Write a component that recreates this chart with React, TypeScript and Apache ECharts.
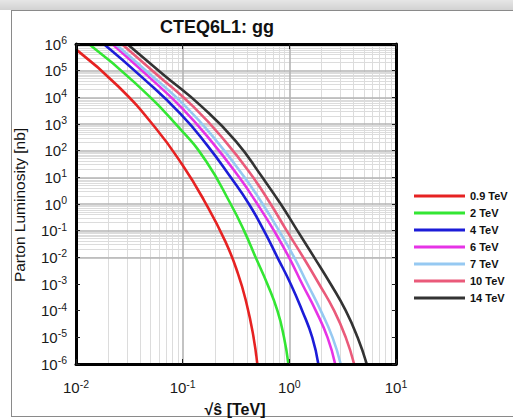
import React, { useEffect, useRef } from "react";
import * as echarts from "echarts";

// ---- Data ----
const seriesNames = ["0.9 TeV", "2 TeV", "4 TeV", "6 TeV", "7 TeV", "10 TeV", "14 TeV"];
const seriesColors = ["#e62222", "#33e633", "#1c1cd8", "#e633e6", "#96c9f2", "#ea5a7a", "#333333"];

// sqrt(s-hat) [TeV] and parton luminosity [nb]
const lumi09X = [0.01, 0.0251, 0.0562, 0.1, 0.158, 0.251, 0.331, 0.398, 0.457, 0.501];
const lumi09Y = [6.3e5, 2.5e4, 676, 28.2, 1.41, 0.0398, 2.34e-3, 1.78e-4, 1.29e-5, 1e-6];

const lumi2X = [0.0132, 0.0355, 0.0955, 0.166, 0.282, 0.376, 0.483, 0.622, 0.773, 0.891, 0.98];
const lumi2Y = [1e6, 3.55e4, 631, 39.8, 1, 0.1, 1e-2, 1e-3, 1e-4, 1e-5, 1e-6];

const lumi4X = [0.0182, 0.0417, 0.0955, 0.17, 0.282, 0.418, 0.578, 0.773, 1.03, 1.32, 1.64, 1.87];
const lumi4Y = [1e6, 5.62e4, 2.4e3, 158, 10, 1, 0.1, 1e-2, 1e-3, 1e-4, 1e-5, 1e-6];

const lumi6X = [0.0219, 0.0457, 0.0955, 0.186, 0.339, 0.501, 0.718, 0.993, 1.32, 1.77, 2.28, 2.69];
const lumi6Y = [1e6, 7.08e4, 4.47e3, 224, 10, 1, 0.1, 1e-2, 1e-3, 1e-4, 1e-5, 1e-6];

const lumi7X = [0.0234, 0.0501, 0.107, 0.209, 0.38, 0.562, 0.8, 1.11, 1.48, 1.97, 2.54, 3.03];
const lumi7Y = [1e6, 7.08e4, 4.47e3, 224, 10, 1, 0.1, 1e-2, 1e-3, 1e-4, 1e-5, 1e-6];

const lumi10X = [0.0269, 0.0575, 0.126, 0.251, 0.457, 0.668, 0.944, 1.35, 1.9, 2.63, 3.38, 4.05];
const lumi10Y = [1e6, 7.08e4, 4.47e3, 224, 10, 1, 0.1, 1e-2, 1e-3, 1e-4, 1e-5, 1e-6];

const lumi14X = [0.0302, 0.0661, 0.151, 0.316, 0.558, 0.83, 1.19, 1.71, 2.44, 3.38, 4.36, 5.32];
const lumi14Y = [1e6, 7.08e4, 4.47e3, 224, 10, 1, 0.1, 1e-2, 1e-3, 1e-4, 1e-5, 1e-6];

const curvesX = [lumi09X, lumi2X, lumi4X, lumi6X, lumi7X, lumi10X, lumi14X];
const curvesY = [lumi09Y, lumi2Y, lumi4Y, lumi6Y, lumi7Y, lumi10Y, lumi14Y];

// Axis ranges / tick values
const xMin = 0.01;
const xMax = 10;
const yMin = 1e-6;
const yMax = 1e6;
const xTicks = [0.01, 0.1, 1, 10];
const yTicks = [1e-6, 1e-5, 1e-4, 1e-3, 1e-2, 1e-1, 1, 10, 100, 1e3, 1e4, 1e5, 1e6];
const xMajorInner = [0.1, 1];
const yMajorInner = [1e-5, 1e-4, 1e-3, 1e-2, 1e-1, 1, 10, 100, 1e3, 1e4, 1e5];
const minorMultipliers = [2, 3, 4, 5, 6, 7, 8, 9];
const xDecades = [0.01, 0.1, 1];
const yDecades = [1e-6, 1e-5, 1e-4, 1e-3, 1e-2, 1e-1, 1, 10, 100, 1e3, 1e4, 1e5];

const FONT = "'Liberation Sans', Arial, Helvetica, sans-serif";

const expLabel = (v: number) => {
  const e = Math.round(Math.log10(v));
  return `{b|10}{s|${e}}`;
};

const labelRich = {
  b: { fontSize: 15, lineHeight: 19, color: "#1a1a1a", fontFamily: FONT },
  s: { fontSize: 10.5, lineHeight: 11, verticalAlign: "top", color: "#1a1a1a", fontFamily: FONT },
};

function buildOption() {
  const minorLines: any[] = [];
  xDecades.forEach((d) =>
    minorMultipliers.forEach((m) => minorLines.push({ xAxis: m * d }))
  );
  yDecades.forEach((d) =>
    minorMultipliers.forEach((m) => minorLines.push({ yAxis: m * d }))
  );
  const majorLines: any[] = [
    ...xMajorInner.map((v) => ({ xAxis: v })),
    ...yMajorInner.map((v) => ({ yAxis: v })),
  ];

  const curveSeries = seriesNames.map((name, i) => ({
    name,
    type: "line",
    xAxisIndex: 0,
    yAxisIndex: 0,
    data: curvesX[i].map((x, j) => [x, curvesY[i][j]]),
    showSymbol: false,
    symbol: "none",
    smooth: 0.5,
    color: seriesColors[i],
    lineStyle: { color: seriesColors[i], width: 2.6 },
    itemStyle: { color: seriesColors[i] },
    z: 5,
    silent: true,
  }));

  const gridSeries = [
    {
      name: "minor-grid",
      type: "line",
      data: [[xMin, yMin]],
      symbol: "none",
      lineStyle: { opacity: 0 },
      silent: true,
      z: 1,
      markLine: {
        z: 1,
        silent: true,
        symbol: ["none", "none"],
        label: { show: false },
        lineStyle: { color: "#dcdcdc", width: 1, type: "solid" },
        emphasis: { disabled: true },
        data: minorLines,
      },
    },
    {
      name: "major-grid",
      type: "line",
      data: [[xMin, yMin]],
      symbol: "none",
      lineStyle: { opacity: 0 },
      silent: true,
      z: 2,
      markLine: {
        z: 2,
        silent: true,
        symbol: ["none", "none"],
        label: { show: false },
        lineStyle: { color: "#b4b4b4", width: 1.6, type: "solid" },
        emphasis: { disabled: true },
        data: majorLines,
      },
    },
  ];

  const axisCommonX = {
    type: "log",
    logBase: 10,
    min: xMin,
    max: xMax,
    z: 10,
    axisLine: { show: true, onZero: false, lineStyle: { color: "#000", width: 3 } },
    axisTick: {
      show: true,
      inside: true,
      length: 5,
      customValues: xTicks,
      lineStyle: { color: "#222", width: 1 },
    },
    splitLine: { show: false },
    minorTick: { show: false },
  };
  const axisCommonY = {
    type: "log",
    logBase: 10,
    min: yMin,
    max: yMax,
    z: 10,
    axisLine: { show: true, onZero: false, lineStyle: { color: "#000", width: 3 } },
    axisTick: {
      show: true,
      inside: true,
      length: 4,
      customValues: yTicks,
      lineStyle: { color: "#222", width: 1 },
    },
    splitLine: { show: false },
    minorTick: { show: false },
  };

  return {
    animation: false,
    backgroundColor: "#ffffff",
    grid: { left: 76, top: 44, width: 320, height: 320, containLabel: false },
    xAxis: [
      {
        ...axisCommonX,
        position: "bottom",
        axisLabel: {
          show: true,
          margin: 14,
          customValues: xTicks,
          formatter: expLabel,
          rich: labelRich,
        },
      },
      {
        ...axisCommonX,
        position: "top",
        axisLabel: { show: false },
      },
    ],
    yAxis: [
      {
        ...axisCommonY,
        position: "left",
        axisLabel: {
          show: true,
          margin: 9,
          customValues: yTicks,
          formatter: expLabel,
          rich: labelRich,
        },
      },
      {
        ...axisCommonY,
        position: "right",
        axisLabel: { show: false },
      },
    ],
    legend: {
      show: true,
      orient: "vertical",
      left: 409,
      top: 184,
      icon: "rect",
      itemWidth: 51,
      itemHeight: 3,
      itemGap: 3,
      data: seriesNames,
      textStyle: {
        fontSize: 11,
        lineHeight: 14,
        fontWeight: "bold",
        color: "#111",
        fontFamily: FONT,
      },
    },
    graphic: [
      {
        type: "rect",
        z: 0,
        silent: true,
        shape: { x: 0, y: 0, width: 513, height: 10 },
        style: {
          fill: new echarts.graphic.LinearGradient(0, 0, 0, 1, [
            { offset: 0, color: "#e6e6e6" },
            { offset: 1, color: "#d2d2d2" },
          ]),
        },
      },
      {
        type: "line",
        silent: true,
        shape: { x1: 11, y1: 10.5, x2: 513, y2: 10.5 },
        style: { stroke: "#8a8a8a", lineWidth: 1 },
      },
      {
        type: "line",
        silent: true,
        shape: { x1: 11.5, y1: 10, x2: 11.5, y2: 417 },
        style: { stroke: "#8a8a8a", lineWidth: 1 },
      },
      {
        type: "line",
        silent: true,
        shape: { x1: 11, y1: 416.5, x2: 513, y2: 416.5 },
        style: { stroke: "#8a8a8a", lineWidth: 1 },
      },
      {
        type: "text",
        silent: true,
        x: 217,
        y: 27,
        style: {
          text: "CTEQ6L1: gg",
          fontSize: 18,
          fontWeight: "bold",
          fontFamily: FONT,
          fill: "#111",
          align: "center",
          verticalAlign: "middle",
        },
      },
      {
        type: "text",
        silent: true,
        x: 19,
        y: 205,
        rotation: Math.PI / 2,
        style: {
          text: "Parton Luminosity [nb]",
          fontSize: 15.5,
          fontFamily: FONT,
          fill: "#111",
          align: "center",
          verticalAlign: "middle",
        },
      },
      {
        type: "text",
        silent: true,
        x: 235,
        y: 409,
        style: {
          text: "√ŝ [TeV]",
          fontSize: 16,
          fontWeight: "bold",
          fontFamily: FONT,
          fill: "#111",
          align: "center",
          verticalAlign: "middle",
        },
      },
    ],
    series: [...gridSeries, ...curveSeries],
  };
}

export default function App() {
  const ref = useRef<HTMLDivElement>(null);
  useEffect(() => {
    if (!ref.current) return;
    const chart = echarts.init(ref.current, null, { renderer: "svg" });
    chart.setOption(buildOption() as any);
    return () => {
      chart.dispose();
    };
  }, []);
  return (
    <div
      ref={ref}
      style={{ position: "absolute", left: 0, top: 0, width: 513, height: 419 }}
    />
  );
}
